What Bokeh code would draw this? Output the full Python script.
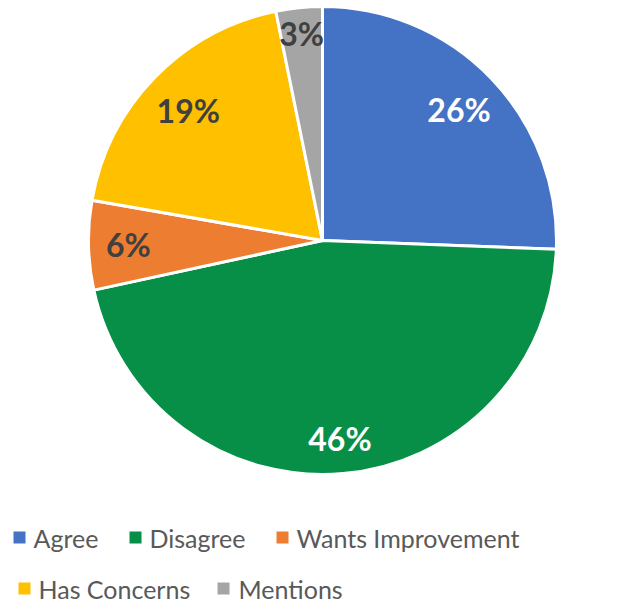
import math
from bokeh.plotting import figure
from bokeh.models import Range1d, ColumnDataSource
from bokeh.core.properties import value
from bokeh.embed import file_html
from bokeh.resources import INLINE

# ---- data ----
categories = ["Agree", "Disagree", "Wants Improvement", "Has Concerns", "Mentions"]
shares = [25.6, 46.0, 6.15, 19.05, 3.2]
colors = ["#4472C4", "#078F48", "#ED7D31", "#FFC000", "#A5A5A5"]
label_colors = ["white", "white", "#404040", "#404040", "#404040"]
label_radius_frac = [0.81, 0.85, 0.83, 0.80, 0.89]

# ---- layout (picture pixel coordinates, y measured from top) ----
W, H = 625, 603
cx, cy_px, R = 322, 240, 234

def Y(py):
    return H - py

p = figure(width=W, height=H, output_backend="svg", toolbar_location=None,
           x_range=Range1d(0, W), y_range=Range1d(0, H),
           min_border=0, outline_line_color=None)
p.axis.visible = False
p.grid.visible = False
p.background_fill_color = "white"
p.border_fill_color = "white"

total = sum(shares)
starts, ends, mids = [], [], []
cum = 0.0
for s in shares:
    a0 = math.pi / 2 - 2 * math.pi * cum / total
    a1 = math.pi / 2 - 2 * math.pi * (cum + s) / total
    starts.append(a0)
    ends.append(a1)
    mids.append((a0 + a1) / 2)
    cum += s

src = ColumnDataSource(dict(start=starts, end=ends, color=colors))
p.wedge(x=cx, y=Y(cy_px), radius=R, start_angle="start", end_angle="end",
        direction="clock", fill_color="color", line_color="white", line_width=3,
        source=src)

lx = [cx + f * R * math.cos(m) for f, m in zip(label_radius_frac, mids)]
ly = [Y(cy_px) + f * R * math.sin(m) for f, m in zip(label_radius_frac, mids)]
labels = [f"{round(100 * s / total)}%" for s in shares]
p.text(x=lx, y=ly, text=labels, text_color=label_colors,
       text_font=value("Lato"), text_font_style="bold", text_font_size="32px",
       text_align="center", text_baseline="middle")

# ---- legend ----
leg_sq_x = [19, 135, 282, 24, 223]
leg_txt_x = [33, 149, 296, 38, 238]
leg_y = [537, 537, 537, 588, 588]
p.rect(x=leg_sq_x, y=[Y(v) for v in leg_y], width=12, height=12,
       width_units="screen", height_units="screen", fill_color=colors,
       line_color=None)
p.text(x=leg_txt_x, y=[Y(v) for v in leg_y], text=categories,
       text_color="#595959", text_font=value("Lato"), text_font_size="25px",
       text_align="left", text_baseline="middle")

open("out.html", "w").write(file_html(p, INLINE))
